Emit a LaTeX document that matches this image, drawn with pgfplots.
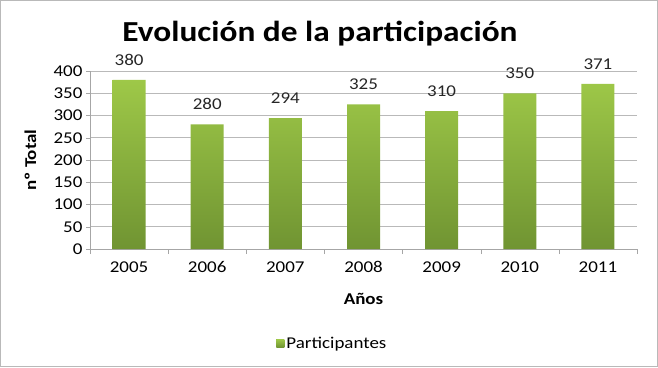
\documentclass[border=0pt]{standalone}
\usepackage{pgfplots}
\pgfplotsset{compat=1.18}
\usepackage{fontspec}
\setmainfont{Carlito}[FakeStretch=1.15]
\definecolor{barTop}{RGB}{158,200,72}
\definecolor{barBot}{RGB}{112,148,50}
\definecolor{legGreen}{RGB}{140,184,64}
\begin{document}
\begin{tikzpicture}[x=1pt,y=1pt]
\path[use as bounding box] (0,0) rectangle (658,367);
\draw[gray!55, line width=1pt] (0.5,0.5) rectangle (657.5,366.5);
\node[font=\bfseries\fontsize{29}{30}\selectfont] at (320,333) {Evolución de la participación};
\begin{axis}[
  at={(90pt,118pt)}, anchor=south west, scale only axis,
  width=547pt, height=178pt,
  xmin=-0.5, xmax=6.5, ymin=0, ymax=400,
  ytick={0,50,...,400},
  xtick={0,1,2,3,4,5,6},
  xticklabels={2005,2006,2007,2008,2009,2010,2011},
  minor xtick={-0.5,0.5,...,6.5},
  axis x line*=bottom, axis y line*=left,
  axis line style={gray!70,-},
  ymajorgrids, grid style={gray!55, line width=0.6pt},
  tick align=outside,
  major tick length=4pt, minor tick length=5pt,
  xtick style={draw=none},
  minor x tick style={draw=gray!70},
  ytick style={draw=gray!70},
  ticklabel style={font=\fontsize{16.5}{16.5}\selectfont},
  xticklabel style={anchor=north, text height=11pt, text depth=1pt, yshift=-5pt},
  /pgf/number format/assume math mode=true,
  ylabel={nº Total}, xlabel={Años},
  label style={font=\bfseries\fontsize{16.5}{16.5}\selectfont},
  ylabel style={at={(axis description cs:-0.092,0.5)}},
  xlabel style={at={(axis description cs:0.5,-0.28)}, anchor=center},
  legend style={at={(axis description cs:0.335,-0.53)}, anchor=west, draw=none, fill=none,
    font=\fontsize{16.5}{16.5}\selectfont},
  legend image code/.code={\fill[legGreen] (0pt,-4pt) rectangle (8pt,4pt);},
]
\addplot[ybar, bar width=33pt, draw=none, shading=axis, top color=barTop, bottom color=barBot,
  nodes near coords, nodes near coords style={font=\fontsize{16.5}{16.5}\selectfont, text=black!85, yshift=11pt},
  point meta=explicit symbolic]
  coordinates {(0,380)[380] (1,280)[280] (2,294)[294] (3,325)[325] (4,310)[310] (5,350)[350] (6,371)[371]};
\addlegendentry{Participantes}
\end{axis}
\end{tikzpicture}
\end{document}
